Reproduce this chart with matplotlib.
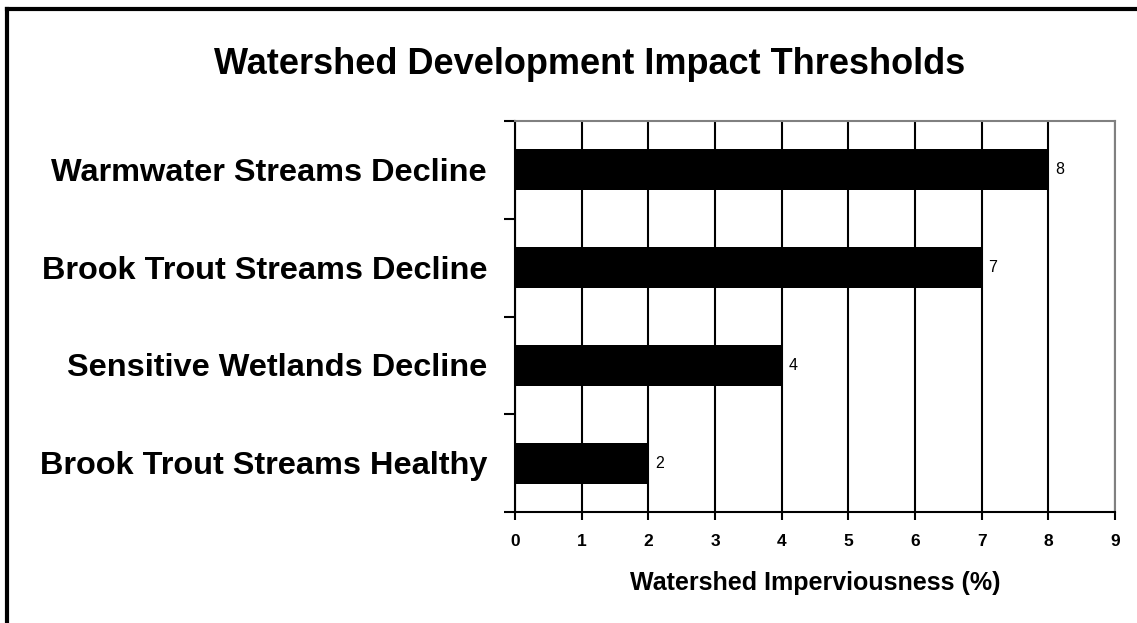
import matplotlib.pyplot as plt

# Data (top to bottom)
categories = [
    "Warmwater Streams Decline",
    "Brook Trout Streams Decline",
    "Sensitive Wetlands Decline",
    "Brook Trout Streams Healthy",
]
values = [8, 7, 4, 2]
x_ticks = list(range(0, 10))

plt.rcParams["font.family"] = ["Liberation Sans", "DejaVu Sans"]

fig = plt.figure(figsize=(11.37, 6.23), dpi=100)
ax = fig.add_axes([515 / 1137, 1 - 512 / 623, 600 / 1137, 391 / 623])

pos = list(range(len(categories)))
ax.barh(pos, values, height=0.42, color="black", zorder=3)
for p, v in zip(pos, values):
    ax.text(v + 0.1, p, str(v), va="center", ha="left", fontsize=11.5, zorder=4)

ax.set_xlim(0, 9)
ax.set_ylim(len(categories) - 0.5, -0.5)
ax.set_xticks(x_ticks)
ax.set_xticklabels([str(t) for t in x_ticks], fontweight="bold", fontsize=12.5)
ax.xaxis.grid(True, color="black", linewidth=1.5, zorder=1)

# boundary ticks on the y axis, category names placed between them
ax.set_yticks([p - 0.5 for p in pos] + [len(categories) - 0.5])
ax.set_yticklabels([])
ax.tick_params(axis="y", length=8, width=1.5, direction="out")
ax.tick_params(axis="x", length=6, width=1.5, direction="out", pad=10)
for p, c in zip(pos, categories):
    ax.text(-0.42, p + 0.03, c, ha="right", va="center", fontsize=23.4, fontweight="bold")

ax.set_xlabel("Watershed Imperviousness (%)", fontsize=18, fontweight="bold", labelpad=16)

for side in ["left", "bottom"]:
    ax.spines[side].set_color("black")
    ax.spines[side].set_linewidth(1.5)
for side in ["top", "right"]:
    ax.spines[side].set_color("#808080")
    ax.spines[side].set_linewidth(1.5)

fig.text(590 / 1137, 1 - 64 / 623, "Watershed Development Impact Thresholds",
         ha="center", va="center", fontsize=26, fontweight="bold")

# outer frame (left and top edges)
fig.add_artist(plt.Line2D([7 / 1137, 7 / 1137], [0, 1 - 9 / 623], color="black",
                          linewidth=3, transform=fig.transFigure, solid_capstyle="projecting"))
fig.add_artist(plt.Line2D([7 / 1137, 1], [1 - 9 / 623, 1 - 9 / 623], color="black",
                          linewidth=3, transform=fig.transFigure, solid_capstyle="projecting"))

fig.savefig("out.png", dpi=100)
